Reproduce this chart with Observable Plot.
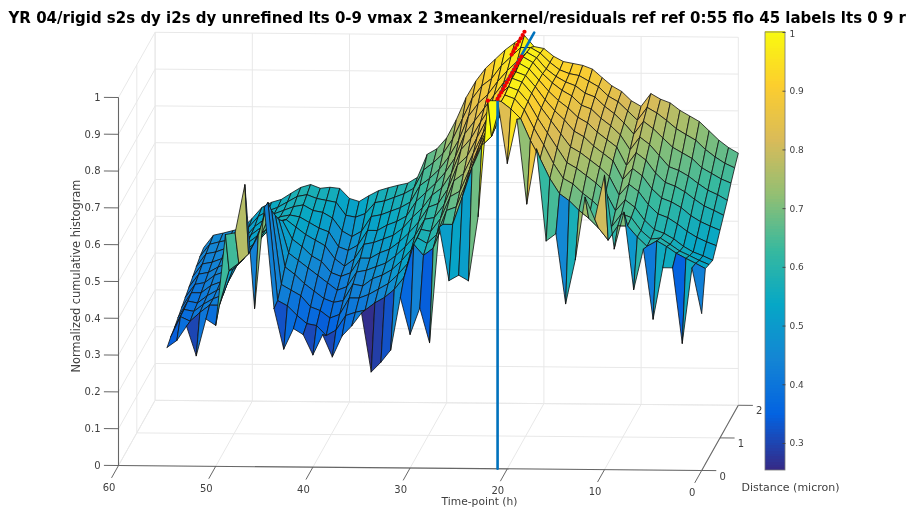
<!DOCTYPE html>
<html><head><meta charset="utf-8">
<script src="https://cdn.jsdelivr.net/npm/d3@7"></script>
<script src="https://cdn.jsdelivr.net/npm/@observablehq/plot@0.6"></script>
<style>
html,body{margin:0;padding:0;background:#fff;overflow:hidden}
#wrap{position:relative;width:909px;height:508px;overflow:hidden}
#wrap svg{position:absolute;left:0;top:0;background:transparent;overflow:hidden;filter:blur(0.3px)}
</style></head><body><div id="wrap"></div>
<script>
const titleText = "YR 04/rigid s2s dy i2s dy unrefined lts 0-9 vmax 2 3meankernel/residuals ref ref 0:55 flo 45 labels lts 0 9 r";
const timeTicks = [60,50,40,30,20,10,0];
const distanceTicks = [0,1,2];
const valueTicks = [0,0.1,0.2,0.3,0.4,0.5,0.6,0.7,0.8,0.9,1];
const colorbarTicks = [0.3,0.4,0.5,0.6,0.7,0.8,0.9,1];
const distances = [0,0.2,0.4,0.6,0.8,1,1.2,1.4,1.6,1.8,2];
const times = [55,54,53,52,51,50,49,48,47,46,45,44,43,42,41,40,39,38,37,36,35,34,33,32,31,30,29,28,27,26,25,24,23,22,21,20,19,18,17,16,15,14,13,12,11,10,9,8,7,6,5,4,3,2,1,0];
// one list per time-point, one value per distance
const surface = [
[.322,.333,.34,.35,.36,.37,.38,.39,.40,.41,.416],
[.341,.388,.39,.395,.40,.405,.415,.425,.435,.443,.45],
[.38,.376,.385,.39,.40,.41,.42,.43,.44,.45,.456],
[.30,.40,.405,.41,.42,.43,.435,.44,.45,.455,.463],
[.40,.42,.42,.425,.43,.44,.445,.45,.455,.46,.47],
[.383,.42,.43,.44,.45,.455,.465,.47,.48,.49,.497],
[.63,.515,.50,.49,.49,.495,.50,.505,.51,.52,.527],
[.635,.535,.525,.52,.515,.515,.52,.525,.53,.535,.541],
[.766,.56,.56,.55,.545,.54,.54,.54,.545,.545,.549],
[.43,.61,.60,.59,.575,.565,.56,.555,.555,.56,.566],
[.705,.70,.66,.63,.60,.58,.565,.56,.565,.575,.582],
[.43,.434,.46,.49,.51,.53,.545,.555,.57,.58,.59],
[.32,.42,.445,.47,.49,.51,.525,.54,.555,.57,.58],
[.376,.394,.43,.445,.47,.485,.51,.525,.55,.565,.583],
[.36,.372,.40,.425,.45,.47,.495,.515,.535,.56,.58],
[.305,.367,.39,.405,.43,.44,.46,.475,.50,.525,.553],
[.36,.34,.37,.395,.41,.43,.44,.465,.485,.52,.545],
[.30,.355,.38,.40,.42,.44,.46,.48,.50,.53,.561],
[.357,.395,.425,.445,.46,.48,.50,.52,.54,.56,.575],
[.385,.404,.425,.44,.465,.48,.505,.52,.545,.565,.583],
[.42,.41,.435,.46,.475,.495,.515,.535,.555,.575,.59],
[.26,.43,.45,.47,.485,.505,.525,.545,.565,.585,.596],
[.287,.445,.465,.485,.505,.525,.545,.56,.58,.60,.612],
[.32,.467,.49,.51,.53,.55,.575,.60,.625,.65,.675],
[.463,.50,.52,.54,.56,.58,.60,.625,.645,.67,.69],
[.363,.59,.59,.595,.605,.62,.635,.65,.67,.695,.72],
[.435,.56,.575,.59,.61,.63,.655,.68,.705,.735,.77],
[.341,.58,.60,.625,.645,.67,.695,.72,.75,.79,.83],
[.655,.645,.665,.685,.71,.735,.76,.785,.815,.845,.875],
[.51,.645,.675,.70,.73,.76,.79,.82,.85,.88,.91],
[.525,.72,.74,.76,.785,.81,.835,.855,.875,.90,.935],
[.51,.80,.81,.825,.84,.86,.875,.89,.91,.935,.96],
[.685,.86,.87,.88,.89,.90,.91,.925,.94,.96,.98],
[1.0,.885,.89,.90,.91,.92,.935,.95,.965,.985,1.0],
[1.0,.98,.98,.985,.99,.99,.995,.995,.99,.985,.97],
[.83,.96,.97,.975,.98,.98,.98,.98,.975,.97,.965],
[.95,.934,.94,.945,.95,.95,.95,.95,.945,.945,.944],
[.72,.875,.89,.90,.91,.915,.92,.925,.925,.925,.93],
[.87,.826,.845,.86,.875,.885,.895,.905,.91,.915,.925],
[.62,.772,.795,.82,.84,.86,.875,.89,.90,.91,.92],
[.64,.731,.755,.78,.805,.83,.85,.865,.88,.895,.91],
[.45,.712,.74,.765,.79,.815,.835,.855,.87,.88,.887],
[.57,.686,.715,.745,.77,.79,.81,.83,.845,.855,.865],
[.74,.665,.695,.725,.75,.77,.79,.81,.825,.84,.85],
[.68,.639,.67,.70,.725,.75,.77,.785,.80,.815,.825],
[.80,.606,.625,.65,.675,.70,.72,.745,.77,.79,.81],
[.60,.645,.66,.68,.705,.73,.755,.78,.805,.825,.845],
[.70,.645,.65,.66,.685,.71,.735,.76,.785,.81,.83],
[.49,.615,.615,.625,.65,.675,.70,.73,.76,.79,.82],
[.60,.59,.592,.60,.625,.65,.675,.70,.735,.768,.80],
[.41,.605,.595,.59,.615,.64,.665,.69,.72,.752,.785],
[.55,.59,.578,.575,.598,.625,.65,.675,.705,.737,.77],
[.55,.572,.56,.555,.578,.603,.63,.655,.68,.712,.745],
[.345,.558,.548,.54,.562,.587,.612,.637,.665,.692,.72],
[.55,.545,.535,.53,.55,.575,.60,.625,.65,.675,.70],
[.426,.531,.524,.518,.54,.564,.587,.61,.639,.663,.685]
];
const redTimes = [22,21,21,21,21,21,21,21,21,21,21,21,21,21,21,22,22,22,22,22,22,22,22];
const redDistances = [0,0,0.1,0.2,0.3,0.4,0.5,0.6,0.7,0.8,0.9,1,1.1,1.2,1.3,1.3,1.4,1.5,1.6,1.7,1.8,1.9,2];
const redValues = [1,1.005,1.005,1.005,1.005,1.005,1.005,1.005,1.005,1.005,1.005,1.005,1.005,1.005,1.005,1.01,1.01,1.01,1.01,1.01,1.01,1.01,1.01];
const markerTime = 21, markerTop = 1.008;
const parulaStops = [0,1/8,2/8,3/8,4/8,5/8,6/8,7/8,1];
const parulaColors = ["#352a87","#0363e1","#1485d4","#06a7c6","#38b99e","#92bf73","#d9bb59","#fcce2e","#f9fb0e"];

// Viewing transform of the 3D box (MATLAB-style orthographic view)
const W = 909, H = 508;
const view = {x0:118, y0:465, perHourX:9.72, perHourY:0.083, perMicronX:18.3, perMicronY:32.6, perUnit:368, tMax:60};
const px = (t,d) => view.x0 + view.perHourX*(view.tMax-t) + view.perMicronX*d;
const py = (t,d,z) => view.y0 + view.perHourY*(view.tMax-t) - view.perMicronY*d - view.perUnit*z;
const vMin = 0.254, vMax = 1;
const colorOpts = {type:"linear", domain: parulaStops.map(s=>vMin+s*(vMax-vMin)), range: parulaColors, clamp:true};

const seg = (a,b)=>({x1:px(a[0],a[1]),y1:py(a[0],a[1],a[2]),x2:px(b[0],b[1]),y2:py(b[0],b[1],b[2])});
const grid = [];
for (const z of valueTicks) { grid.push(seg([60,0,z],[60,2,z])); grid.push(seg([60,2,z],[0,2,z])); }
for (const t of timeTicks) { grid.push(seg([t,0,0],[t,2,0])); grid.push(seg([t,2,0],[t,2,1])); }
for (const d of distanceTicks) { grid.push(seg([60,d,0],[0,d,0])); grid.push(seg([60,d,0],[60,d,1])); }

const axisLines = [seg([60,0,0],[60,0,1]), seg([60,0,0],[0,0,0]), seg([0,0,0],[0,2,0])];
const tickLines = [
  ...timeTicks.map(t=>seg([t,0,0],[t,-0.38,0])),
  ...distanceTicks.map(d=>seg([0,d,0],[-1.5,d,0])),
  ...valueTicks.map(z=>seg([60,0,z],[61.5,0,z]))
];

// Painter's order: far rows first
const cells = [];
let id = 0;
for (let j = distances.length-2; j >= 0; j--) {
  for (let i = 0; i < times.length-1; i++) {
    const v = surface[i+1][j];
    const corners = [[i,j],[i+1,j],[i+1,j+1],[i,j+1],[i,j]];
    for (const [a,b] of corners) {
      cells.push({id, v, x:px(times[a],distances[b]), y:py(times[a],distances[b],surface[a][b])});
    }
    id++;
  }
}
const markerPath = [[markerTime,0,0],[markerTime,0,markerTop],[markerTime,2,markerTop]]
  .map(([t,d,z])=>({x:px(t,d),y:py(t,d,z)}));
const redDots = redTimes.map((t,i)=>({x:px(t,redDistances[i]),y:py(t,redDistances[i],redValues[i])}));
const labelFill = "#404040", font = "'DejaVu Sans'";

const main = Plot.plot({
  width:W, height:H, margin:0,
  x:{domain:[0,W],range:[0,W],axis:null},
  y:{domain:[0,H],range:[0,H],axis:null},
  color:colorOpts,
  style:{background:"transparent",fontFamily:font},
  marks:[
    Plot.link(grid,{x1:"x1",y1:"y1",x2:"x2",y2:"y2",stroke:"#e8e8e8",strokeWidth:1}),
    Plot.link(axisLines,{x1:"x1",y1:"y1",x2:"x2",y2:"y2",stroke:"#666",strokeWidth:1.1}),
    Plot.link(tickLines,{x1:"x1",y1:"y1",x2:"x2",y2:"y2",stroke:"#555",strokeWidth:0.9}),
    Plot.line(cells,{x:"x",y:"y",z:"id",fill:"v",stroke:"#111",strokeWidth:0.8,strokeLinejoin:"round",curve:"linear"}),
    Plot.line(markerPath,{x:"x",y:"y",stroke:"#0072bd",strokeWidth:2.6}),
    Plot.dot(redDots,{x:"x",y:"y",r:2.1,fill:"#f00000",stroke:"none"}),
    Plot.text(timeTicks,{x:t=>px(t,-0.68),y:t=>py(t,-0.68,0),text:t=>String(t),dx:3,fontSize:10,fill:labelFill}),
    Plot.text(distanceTicks,{x:d=>px(0,d),y:d=>py(0,d,0),text:d=>String(d),dx:21,dy:6,fontSize:10,fill:labelFill}),
    Plot.text(valueTicks,{x:z=>px(60,0),y:z=>py(60,0,z),text:z=>String(z),dx:-18,textAnchor:"end",fontSize:10,fill:labelFill}),
    Plot.text([titleText],{x:()=>8,y:()=>18,text:d=>d,textAnchor:"start",fontWeight:"bold",fontSize:15,fill:"#000"}),
    Plot.text(["Time-point (h)"],{x:()=>479,y:()=>501,text:d=>d,fontSize:10.7,fill:labelFill}),
    Plot.text(["Distance (micron)"],{x:()=>790,y:()=>487,text:d=>d,fontSize:11,fill:labelFill}),
    Plot.text(["Normalized cumulative histogram"],{x:()=>76,y:()=>275.5,text:d=>d,rotate:-90,fontSize:11.4,fill:labelFill})
  ]
});
document.getElementById("wrap").append(main);

// Colorbar
const barSteps = d3.range(0,160).map(i=>vMin+(vMax-vMin)*i/160);
const barStep = (vMax-vMin)/160;
const bar = Plot.plot({
  width:W, height:H, margin:0,
  x:{domain:[0,1],range:[765,785],axis:null},
  y:{domain:[vMin,vMax],range:[470,32],axis:null},
  color:colorOpts,
  style:{background:"transparent",fontFamily:font},
  marks:[
    Plot.rect(barSteps,{x1:()=>0,x2:()=>1,y1:v=>v,y2:v=>v+barStep*1.3,fill:v=>v,shapeRendering:"crispEdges"}),
    Plot.rect([0],{x1:()=>0,x2:()=>1,y1:()=>vMin,y2:()=>vMax,fill:"none",stroke:"#777",strokeWidth:0.8}),
    Plot.link(colorbarTicks,{x1:()=>0.85,x2:()=>1,y1:v=>v,y2:v=>v,stroke:"#444",strokeWidth:0.9}),
    Plot.text(colorbarTicks,{x:()=>1,y:v=>v===1?vMax-0.002:v,text:v=>String(v),dx:4,textAnchor:"start",fontSize:9,fill:labelFill})
  ]
});
document.getElementById("wrap").append(bar);
</script></body></html>
